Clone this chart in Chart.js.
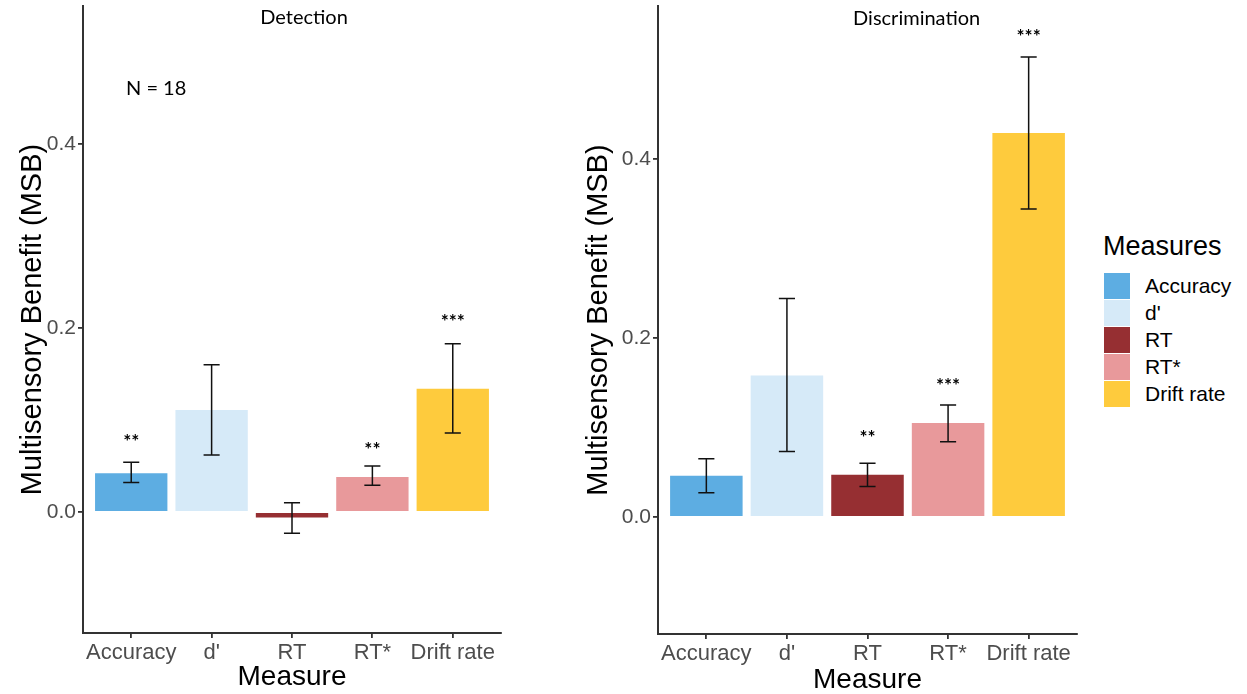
<!DOCTYPE html>
<html>
<head>
<meta charset="utf-8">
<script src="https://cdn.jsdelivr.net/npm/chart.js@4"></script>
<style>
  body { margin: 0; background: #fff; }
  #wrap { position: relative; width: 1247px; height: 694px; background: #fff; overflow: hidden; }
  canvas { position: absolute; top: 0; }
  #det { left: 0; }
  #dis { left: 570px; }
  #legend { position: absolute; left: 1103px; top: 229px; font-family: "Liberation Sans", Arial, sans-serif; color: #000; }
  #legend .ttl { font-size: 27px; line-height: 34px; margin-bottom: 9px; }
  #legend .row { display: flex; align-items: center; height: 27px; }
  #legend .sw { width: 26px; height: 26px; border: 0.5px solid #fff; margin-right: 14px; }
  #legend .lb { font-size: 21px; }
</style>
</head>
<body>
<div id="wrap">
  <canvas id="det" width="510" height="694"></canvas>
  <canvas id="dis" width="520" height="694"></canvas>
  <div id="legend"></div>
</div>
<script>
const measures = ['Accuracy', "d'", 'RT', 'RT*', 'Drift rate'];
const colors = ['#5dade2', '#d6eaf8', '#962f32', '#e8999b', '#fecb3d'];

const detMean = [0.042, 0.111, -0.006, 0.038, 0.134];
const detLow = [0.032, 0.062, -0.023, 0.029, 0.086];
const detHigh = [0.054, 0.160, 0.010, 0.050, 0.183];
const detStars = ['**', '', '', '**', '***'];
const detStarY = [0.082, null, null, 0.073, 0.212];

const disMean = [0.046, 0.158, 0.047, 0.105, 0.429];
const disLow = [0.027, 0.073, 0.034, 0.084, 0.344];
const disHigh = [0.065, 0.244, 0.060, 0.125, 0.514];
const disStars = ['', '', '**', '***', '***'];
const disStarY = [null, null, 0.094, 0.152, 0.542];

const yTicks = [0, 0.2, 0.4];

const sans = '"Liberation Sans", Arial, sans-serif';
const calib = 'Lato, "Open Sans", sans-serif';

// error bars, stars and panel notes
const extras = {
  id: 'extras',
  afterDatasetsDraw(chart, args, o) {
    const ctx = chart.ctx;
    const xs = chart.scales.x, ys = chart.scales.y;
    ctx.save();
    ctx.strokeStyle = '#111';
    ctx.lineWidth = 1.5;
    o.low.forEach((lo, i) => {
      const x = xs.getPixelForValue(i + 1);
      const x0 = xs.getPixelForValue(i + 0.9), x1 = xs.getPixelForValue(i + 1.1);
      const y0 = ys.getPixelForValue(lo), y1 = ys.getPixelForValue(o.high[i]);
      ctx.beginPath();
      ctx.moveTo(x, y0); ctx.lineTo(x, y1);
      ctx.moveTo(x0, y0); ctx.lineTo(x1, y0);
      ctx.moveTo(x0, y1); ctx.lineTo(x1, y1);
      ctx.stroke();
    });
    ctx.fillStyle = '#000';
    ctx.textAlign = 'center';
    ctx.textBaseline = 'alphabetic';
    ctx.font = 'bold 19px ' + calib;
    o.stars.forEach((s, i) => {
      if (!s) return;
      ctx.fillText(s, xs.getPixelForValue(i + 1), ys.getPixelForValue(o.starY[i]) + 11);
    });
    ctx.textBaseline = 'middle';
    ctx.font = '20px ' + calib;
    o.notes.forEach(n => {
      ctx.fillText(n.text, xs.getPixelForValue(n.x), ys.getPixelForValue(n.y));
    });
    ctx.restore();
  }
};

const makeChart = (canvas, mean, low, high, stars, starY, notes, dims) => {
  return new Chart(canvas, {
    type: 'bar',
    data: {
      datasets: [{
        data: mean.map((v, i) => ({ x: i + 1, y: v })),
        backgroundColor: colors,
        borderWidth: 0,
        barPercentage: 0.9,
        categoryPercentage: 1
      }]
    },
    plugins: [extras],
    options: {
      responsive: false,
      animation: false,
      devicePixelRatio: 1,
      layout: { padding: { top: 6, right: dims.padRight, left: 0, bottom: 0 } },
      plugins: {
        legend: { display: false },
        tooltip: { enabled: false },
        extras: { low, high, stars, starY, notes }
      },
      scales: {
        x: {
          type: 'linear',
          min: 0.4,
          max: 5.6,
          offset: false,
          afterFit: s => { s.height = dims.xHeight; s.paddingLeft = 0; s.paddingRight = 0; },
          afterBuildTicks: s => { s.ticks = measures.map((m, i) => ({ value: i + 1 })); },
          ticks: {
            autoSkip: false,
            maxRotation: 0,
            padding: 2,
            color: '#4d4d4d',
            font: { family: sans, size: 22 },
            callback: v => measures[v - 1]
          },
          grid: { offset: false, drawOnChartArea: false, drawTicks: true, tickLength: 5, color: '#333', lineWidth: 1.8 },
          border: { display: true, color: '#333', width: 2 },
          title: {
            display: true, text: 'Measure', color: '#000',
            font: { family: sans, size: 28, lineHeight: 1 },
            padding: { top: 0, bottom: dims.xTitlePad }
          }
        },
        y: {
          min: dims.yMin,
          max: dims.yMax,
          afterFit: s => { s.width = dims.yWidth; s.paddingTop = 0; s.paddingBottom = 0; },
          afterBuildTicks: s => { s.ticks = yTicks.map(v => ({ value: v })); },
          ticks: {
            padding: 2,
            color: '#4d4d4d',
            font: { family: sans, size: 21 },
            callback: v => v.toFixed(1)
          },
          grid: { drawOnChartArea: false, drawTicks: true, tickLength: 5, color: '#333', lineWidth: 1.8 },
          border: { display: true, color: '#333', width: 2 },
          title: {
            display: true, text: 'Multisensory Benefit (MSB)', color: '#000',
            font: { family: sans, size: 29, lineHeight: 1 },
            padding: { top: dims.yTitlePad, bottom: 0 }
          }
        }
      }
    }
  });
};

makeChart(document.querySelector('#det'), detMean, detLow, detHigh, detStars, detStarY,
  [{ text: 'Detection', x: 3.15, y: 0.537 }, { text: 'N = 18', x: 1.31, y: 0.46 }],
  { padRight: 9, xHeight: 61, yWidth: 83, yMin: -0.1315, yMax: 0.55, xTitlePad: 3, yTitlePad: 18 });

makeChart(document.querySelector('#dis'), disMean, disLow, disHigh, disStars, disStarY,
  [{ text: 'Discrimination', x: 3.61, y: 0.557 }],
  { padRight: 13, xHeight: 60, yWidth: 88, yMin: -0.131, yMax: 0.571, xTitlePad: 0, yTitlePad: 14 });

const legend = document.querySelector('#legend');
legend.innerHTML = '<div class="ttl">Measures</div>' + measures.map((m, i) =>
  `<div class="row"><div class="sw" style="background:${colors[i]}"></div><div class="lb">${m}</div></div>`
).join('');
</script>
</body>
</html>
